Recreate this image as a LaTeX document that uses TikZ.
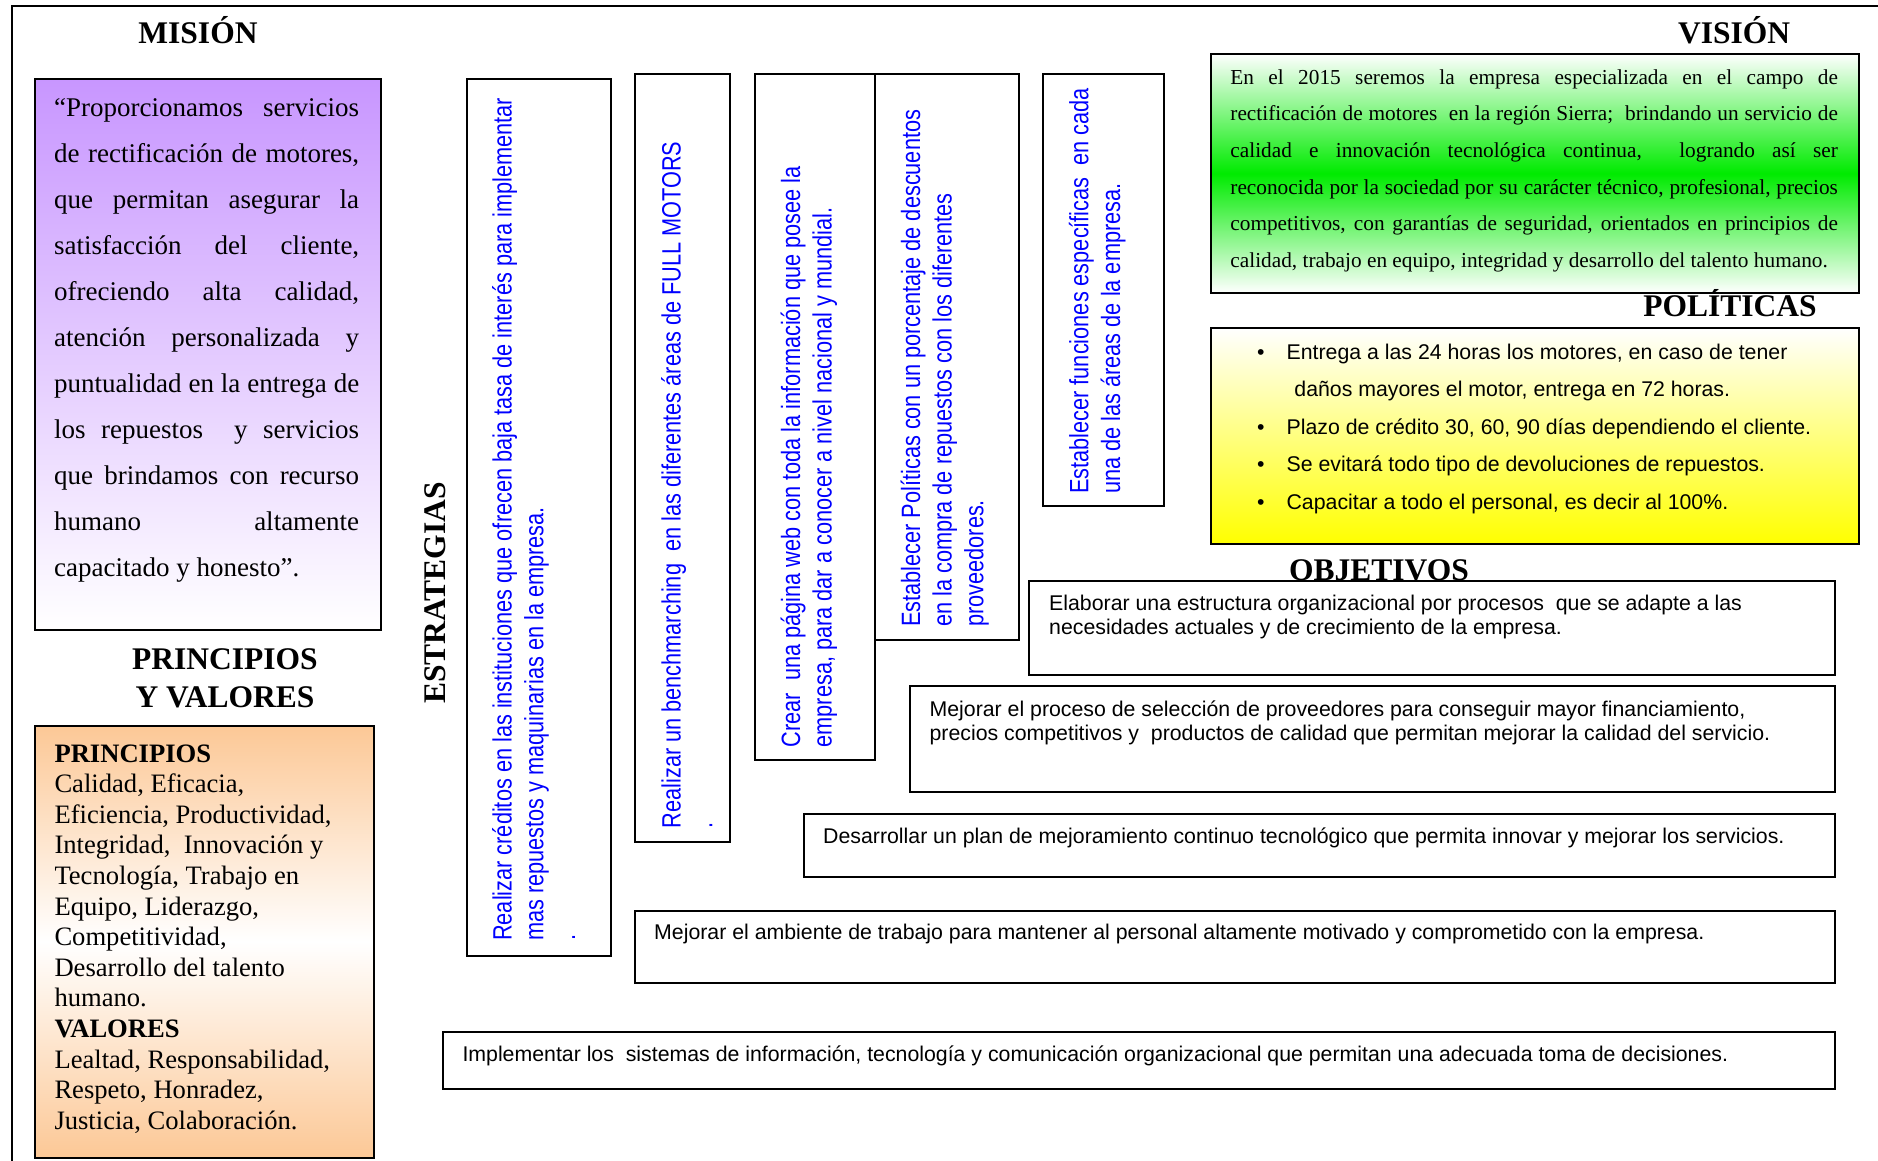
\documentclass[tikz,border=0pt]{standalone}
\usepackage{fontspec}
\setmainfont{Liberation Serif}
\newfontfamily\arialfont{Liberation Sans}
\newfontfamily\narrowfont[FakeStretch=0.82]{Liberation Sans}
\definecolor{lilac}{RGB}{200,150,255}
\definecolor{peach}{RGB}{252,200,150}
\definecolor{vgreen}{RGB}{0,235,0}
\definecolor{vyellow}{RGB}{255,255,0}
\begin{document}
% Multi-line text nodes are anchored at the baseline of their last line.
\begin{tikzpicture}[x=1pt,y=-1pt,
  panel/.style={draw=black, line width=2pt, inner sep=0pt, anchor=north west, fill=white},
  heading/.style={font=\bfseries\fontsize{31.5}{38.3}\selectfont, anchor=base, inner sep=0pt, align=center},
  strat/.style={font=\narrowfont\fontsize{26.5}{31.7}\selectfont, text=blue, rotate=90,
                anchor=base west, align=left, inner sep=0pt},
  objtext/.style={font=\arialfont\fontsize{21.3}{24}\selectfont, anchor=base west, align=left, inner sep=0pt},
]
% page and outer frame
\path[use as bounding box, fill=white] (0,0) rectangle (1878,1161);
\draw[line width=2pt] (1878,6) -- (12,6) -- (12,1161);

% ---------- left column ----------
\node[heading] (tmision) at (198,43.5) {MISIÓN};
\node[panel, top color=lilac, bottom color=white, minimum width=346pt, minimum height=551pt]
  (misionbox) at (33.5,77.8) {};
\node[anchor=base west, align=left, inner sep=0pt, font=\fontsize{27}{46}\selectfont]
  (misiontext) at (54,576.5) {%
  \makebox[305pt][s]{“Proporcionamos servicios}\\
  \makebox[305pt][s]{de rectificación de motores,}\\
  \makebox[305pt][s]{que permitan asegurar la}\\
  \makebox[305pt][s]{satisfacción del cliente,}\\
  \makebox[305pt][s]{ofreciendo alta calidad,}\\
  \makebox[305pt][s]{atención personalizada y}\\
  \makebox[305pt][s]{puntualidad en la entrega de}\\
  \makebox[305pt][s]{los repuestos \ y servicios}\\
  \makebox[305pt][s]{que brindamos con recurso}\\
  \makebox[305pt][s]{humano altamente}\\
  capacitado y honesto”.};

\node[heading] (tprincipios) at (225,707.5) {PRINCIPIOS\\Y VALORES};
\node[panel, top color=peach, bottom color=peach, middle color=white,
      minimum width=339pt, minimum height=432.4pt] (principiosbox) at (33.5,724.6) {};
\node[anchor=base west, align=left, inner sep=0pt, font=\fontsize{26.6}{30.6}\selectfont]
  (principiostext) at (54.3,1129.2) {%
  \textbf{PRINCIPIOS}\\
  Calidad, Eficacia,\\
  Eficiencia, Productividad,\\
  Integridad, \ Innovación y\\
  Tecnología, Trabajo en\\
  Equipo, Liderazgo,\\
  Competitividad,\\
  Desarrollo del talento\\
  humano.\\
  \textbf{VALORES}\\
  Lealtad, Responsabilidad,\\
  Respeto, Honradez,\\
  Justicia, Colaboración.};

% ---------- strategies ----------
\node[heading, rotate=90] (testrategias) at (445,593) {ESTRATEGIAS};

\node[panel, minimum width=144pt, minimum height=877pt] (s1box) at (466,77.8) {};
\node[panel, minimum width=95.8pt, minimum height=767.8pt] (s2box) at (633.6,73) {};
\node[panel, minimum width=120.5pt, minimum height=685.5pt] (s3box) at (753.8,73) {};
\node[panel, minimum width=144pt, minimum height=565.5pt] (s4box) at (874.3,73) {};
\node[panel, minimum width=120.4pt, minimum height=432pt] (s5box) at (1042.3,73) {};

\node[strat] (s1text) at (575.1,941) {Realizar créditos en las instituciones que ofrecen baja tasa de interés para implementar\\
  mas repuestos y maquinarias en la empresa.\\ .};
\node[strat] (s2text) at (712.4,828.5) {Realizar un benchmarching \ en las diferentes áreas de FULL MOTORS\\ .};
\node[strat] (s3text) at (831.7,747.5) {Crear \ una página web con toda la información que posee la\\
  empresa, para dar a conocer a nivel nacional y mundial.};
\node[strat] (s4text) at (983.4,627) {Establecer Políticas con un porcentaje de descuentos\\
  en la compra de repuestos con los diferentes\\ proveedores.};
\node[strat] (s5text) at (1120,494) {Establecer funciones específicas \ en cada\\
  una de las áreas de la empresa.};

% ---------- vision ----------
\node[heading] (tvision) at (1734,43.5) {VISIÓN};
\node[panel, top color=white, bottom color=white, middle color=vgreen,
      minimum width=647.9pt, minimum height=239.5pt] (visionbox) at (1209.7,52.7) {};
\node[anchor=base west, align=left, inner sep=0pt, font=\fontsize{21.3}{36.7}\selectfont]
  (visiontext) at (1230.2,267.5) {%
  \makebox[607.5pt][s]{En el 2015 seremos la empresa especializada en el campo de}\\
  \makebox[607.5pt][s]{rectificación de motores \ en la región Sierra; \ brindando un servicio de}\\
  \makebox[607.5pt][s]{calidad e innovación tecnológica continua, \ logrando así ser}\\
  \makebox[607.5pt][s]{reconocida por la sociedad por su carácter técnico, profesional, precios}\\
  \makebox[607.5pt][s]{competitivos, con garantías de seguridad, orientados en principios de}\\
  calidad, trabajo en equipo, integridad y desarrollo del talento humano.};

% ---------- policies ----------
\node[heading] (tpoliticas) at (1730,316.7) {POLÍTICAS};
\node[panel, top color=white, bottom color=vyellow,
      minimum width=647.9pt, minimum height=215.6pt] (politicasbox) at (1209.7,327) {};
\node[anchor=base west, align=left, inner sep=0pt, font=\arialfont\fontsize{21.3}{37.5}\selectfont]
  (politicastext) at (1256.8,509) {%
  \makebox[29.6pt][l]{\textbullet}Entrega a las 24 horas los motores, en caso de tener\\
  \hspace*{37.4pt}daños mayores el motor, entrega en 72 horas.\\
  \makebox[29.6pt][l]{\textbullet}Plazo de crédito 30, 60, 90 días dependiendo el cliente.\\
  \makebox[29.6pt][l]{\textbullet}Se evitará todo tipo de devoluciones de repuestos.\\
  \makebox[29.6pt][l]{\textbullet}Capacitar a todo el personal, es decir al 100\%.};

% ---------- objectives ----------
\node[heading] (tobjetivos) at (1379,580) {OBJETIVOS};
\node[panel, minimum width=806.1pt, minimum height=94.6pt] (o1box) at (1027.6,579.7) {};
\node[panel, minimum width=924.7pt, minimum height=105.5pt] (o2box) at (909,685) {};
\node[panel, minimum width=1031.2pt, minimum height=62.3pt] (o3box) at (802.5,813.2) {};
\node[panel, minimum width=1200.1pt, minimum height=71.7pt] (o4box) at (633.6,910.3) {};
\node[panel, minimum width=1391.7pt, minimum height=56.3pt] (o5box) at (442,1031.2) {};

\node[objtext] (o1text) at (1049,634.5) {Elaborar una estructura organizacional por procesos \ que se adapte a las\\
  necesidades actuales y de crecimiento de la empresa.};
\node[objtext] (o2text) at (929.4,740.5) {Mejorar el proceso de selección de proveedores para conseguir mayor financiamiento,\\
  precios competitivos y \ productos de calidad que permitan mejorar la calidad del servicio.};
\node[objtext] (o3text) at (823,843) {Desarrollar un plan de mejoramiento continuo tecnológico que permita innovar y mejorar los servicios.};
\node[objtext] (o4text) at (654,939) {Mejorar el ambiente de trabajo para mantener al personal altamente motivado y comprometido con la empresa.};
\node[objtext] (o5text) at (462.3,1061) {Implementar los \ sistemas de información, tecnología y comunicación organizacional que permitan una adecuada toma de decisiones.};
\end{tikzpicture}
\end{document}
